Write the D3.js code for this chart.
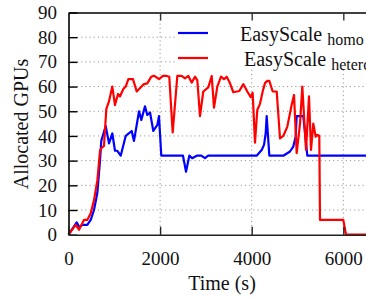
<html>
<head>
<style>
  body { margin: 0; background: #fff; }
  svg { display: block; font-family: "Liberation Serif", "DejaVu Serif", serif; }
  svg text { font-family: "Liberation Serif", "DejaVu Serif", serif; }
</style>
</head>
<body>
<svg id="chart"></svg>
<script src="https://d3js.org/d3.v7.min.js"></script>
<script>

// EasyScale homo (blue)
var homoTime = [0,179,237,300,410,485,557,630,688,716,812,884,957,1015,1066,1140,1249,1380,1430,1540,1590,1670,1720,1780,1852,1940,1976,2026,2500,2566,2638,2700,2800,2900,2980,3050,4035,4108,4218,4269,4305,4327,4385,4690,4836,4908,4960,4982,5127,5214,7000];
var homoGPUs = [0,5,3,4,4,6,10,17,30,38,44,37,41,34,34,32,40,42,38,50,46.5,52,48.5,49.5,42,44.5,48,32,32,25.5,32,31,32,32,31,32,32,32,34.3,36.4,41,48,32,32,33.7,35.7,39.7,48,48,32,32];

// EasyScale hetero (red)
var heterTime = [0,157,229,338,410,485,557,630,688,716,775,826,884,957,1015,1081,1124,1197,1249,1307,1408,1489,1648,1720,1808,1866,1976,2063,2144,2200,2275,2376,2471,2544,2616,2690,2762,2813,2871,2943,3052,3127,3177,3249,3330,3395,3454,3526,3599,3730,3817,3904,3978,4021,4072,4122,4181,4240,4290,4341,4385,4458,4546,4618,4690,4778,4873,4924,4982,5055,5105,5186,5251,5295,5345,5397,5441,5476,5491,6000,6060,7000];
var heterGPUs = [0,4,2,6,6,8.7,14,22,34,35,36,51,54,60,52.5,57,56,59,60,63,63,58,61,61.3,64,64.4,63,64.3,64.3,64,41.4,64.3,64.3,63.3,64.3,61.6,64,62.5,48,58,59.7,64.3,51.5,60,64,63,64,61.3,57.7,58.2,61,58,55.7,57.5,37.3,50.5,53,58,61.4,62.3,62.3,58,58,39,40,43.8,52.6,56.6,33,45,60,34.3,56,34.3,45,39.7,40.4,40,6,6,0,0];

var yTicks = [0,10,20,30,40,50,60,70,80,90];
var xTicks = [0,2000,4000,6000];

var width = 366, height = 299;
var margins = {left:68.5, top:12.5, bottom:64.5};
var serif = "'Liberation Serif', 'DejaVu Serif', serif";

var svg = d3.select("#chart")
    .attr("width", width)
    .attr("height", height);

var xScale = d3.scaleLinear()
    .domain([0,7000])
    .range([margins.left, margins.left + 7000*0.0458]);

var yScale = d3.scaleLinear()
    .domain([0,90])
    .range([height - margins.bottom + 0.2, margins.top]);

var x0 = xScale(0), xEnd = xScale(7000);
var yBot = yScale(0), yTop = yScale(90);

// grid
var grid = svg.append("g").attr("class","grid");
grid.selectAll("line.h")
    .data(yTicks.filter(function(d){ return d > 0 && d < 90; }))
    .enter().append("line")
    .attr("x1", x0).attr("x2", xEnd)
    .attr("y1", function(d){ return yScale(d); })
    .attr("y2", function(d){ return yScale(d); })
    .attr("stroke","#999").attr("stroke-width",1)
    .attr("stroke-dasharray","1.2,3");
grid.selectAll("line.v")
    .data(xTicks.filter(function(d){ return d > 0; }))
    .enter().append("line")
    .attr("x1", function(d){ return xScale(d); })
    .attr("x2", function(d){ return xScale(d); })
    .attr("y1", yBot).attr("y2", yTop)
    .attr("stroke","#999").attr("stroke-width",1)
    .attr("stroke-dasharray","1.2,3");

// series
var line = d3.line()
    .x(function(d){ return xScale(d[0]); })
    .y(function(d){ return yScale(d[1]); });

var homo = homoTime.map(function(t,i){ return [t, homoGPUs[i]]; });
var heter = heterTime.map(function(t,i){ return [t, heterGPUs[i]]; });

svg.append("path")
    .datum(homo)
    .attr("d", line)
    .attr("fill","none")
    .attr("stroke","#0000ff")
    .attr("stroke-width",2.2)
    .attr("stroke-linejoin","round");

svg.append("path")
    .datum(heter)
    .attr("d", line)
    .attr("fill","none")
    .attr("stroke","#ff0000")
    .attr("stroke-width",2.2)
    .attr("stroke-linejoin","round");

// axes
var yAxis = d3.axisLeft(yScale)
    .tickValues(yTicks)
    .tickSizeInner(-9)
    .tickSizeOuter(0)
    .tickPadding(11.5);

svg.append("g")
    .attr("transform","translate(" + x0 + ",0)")
    .call(yAxis)
    .attr("font-family", serif)
    .attr("font-size", 19)
    .call(function(g){
        g.select(".domain").attr("stroke","#000").attr("stroke-width",1.6);
        g.selectAll(".tick line").attr("stroke","#000").attr("stroke-width",1.4);
        g.selectAll(".tick text").attr("fill","#111");
    });

var xAxis = d3.axisBottom(xScale)
    .tickValues(xTicks)
    .tickFormat(d3.format("d"))
    .tickSizeInner(-8)
    .tickSizeOuter(0)
    .tickPadding(17);

svg.append("g")
    .attr("transform","translate(0," + yBot + ")")
    .call(xAxis)
    .attr("font-family", serif)
    .attr("font-size", 19)
    .call(function(g){
        g.select(".domain").attr("stroke","#222").attr("stroke-width",1.6);
        g.selectAll(".tick line").attr("stroke","#222").attr("stroke-width",1.4);
        g.selectAll(".tick text").attr("fill","#111");
    });

var xTop = d3.axisTop(xScale)
    .tickValues(xTicks.filter(function(d){ return d > 0; }))
    .tickSizeInner(-8)
    .tickSizeOuter(0)
    .tickFormat("");

// legend box (opaque)
svg.append("rect")
    .attr("x", 176).attr("y", yTop)
    .attr("width", width - 176).attr("height", 67 - yTop)
    .attr("fill","#fff");

svg.append("g")
    .attr("transform","translate(0," + yTop + ")")
    .call(xTop)
    .call(function(g){
        g.select(".domain").attr("stroke","#000").attr("stroke-width",1.4);
        g.selectAll(".tick line").attr("stroke","#333").attr("stroke-width",1.4);
    });

var legend = [
    {name:"EasyScale", sub:"homo", color:"#0000ff", y:33, tx:240},
    {name:"EasyScale", sub:"hetero", color:"#ff0000", y:58, tx:244}
];

var lg = svg.append("g").attr("class","legend");
lg.selectAll("line")
    .data(legend)
    .enter().append("line")
    .attr("x1",178).attr("x2",208)
    .attr("y1",function(d){ return d.y; })
    .attr("y2",function(d){ return d.y; })
    .attr("stroke",function(d){ return d.color; })
    .attr("stroke-width",2.2);

var lt = lg.selectAll("text")
    .data(legend)
    .enter().append("text")
    .attr("x",function(d){ return d.tx; })
    .attr("y",function(d){ return d.y + 8; })
    .attr("fill","#111")
    .attr("font-family", serif)
    .attr("font-size", 20);
lt.append("tspan").text(function(d){ return d.name + " "; });
lt.append("tspan")
    .attr("dy",4)
    .attr("font-size", 16)
    .text(function(d){ return d.sub; });

// axis titles
svg.append("text")
    .attr("x",222).attr("y",290)
    .attr("text-anchor","middle")
    .attr("fill","#111")
    .attr("font-family", serif)
    .attr("font-size", 20)
    .text("Time (s)");

svg.append("text")
    .attr("transform","translate(28,124) rotate(-90)")
    .attr("text-anchor","middle")
    .attr("fill","#111")
    .attr("font-family", serif)
    .attr("font-size", 20)
    .text("Allocated GPUs");

</script>
</body>
</html>
